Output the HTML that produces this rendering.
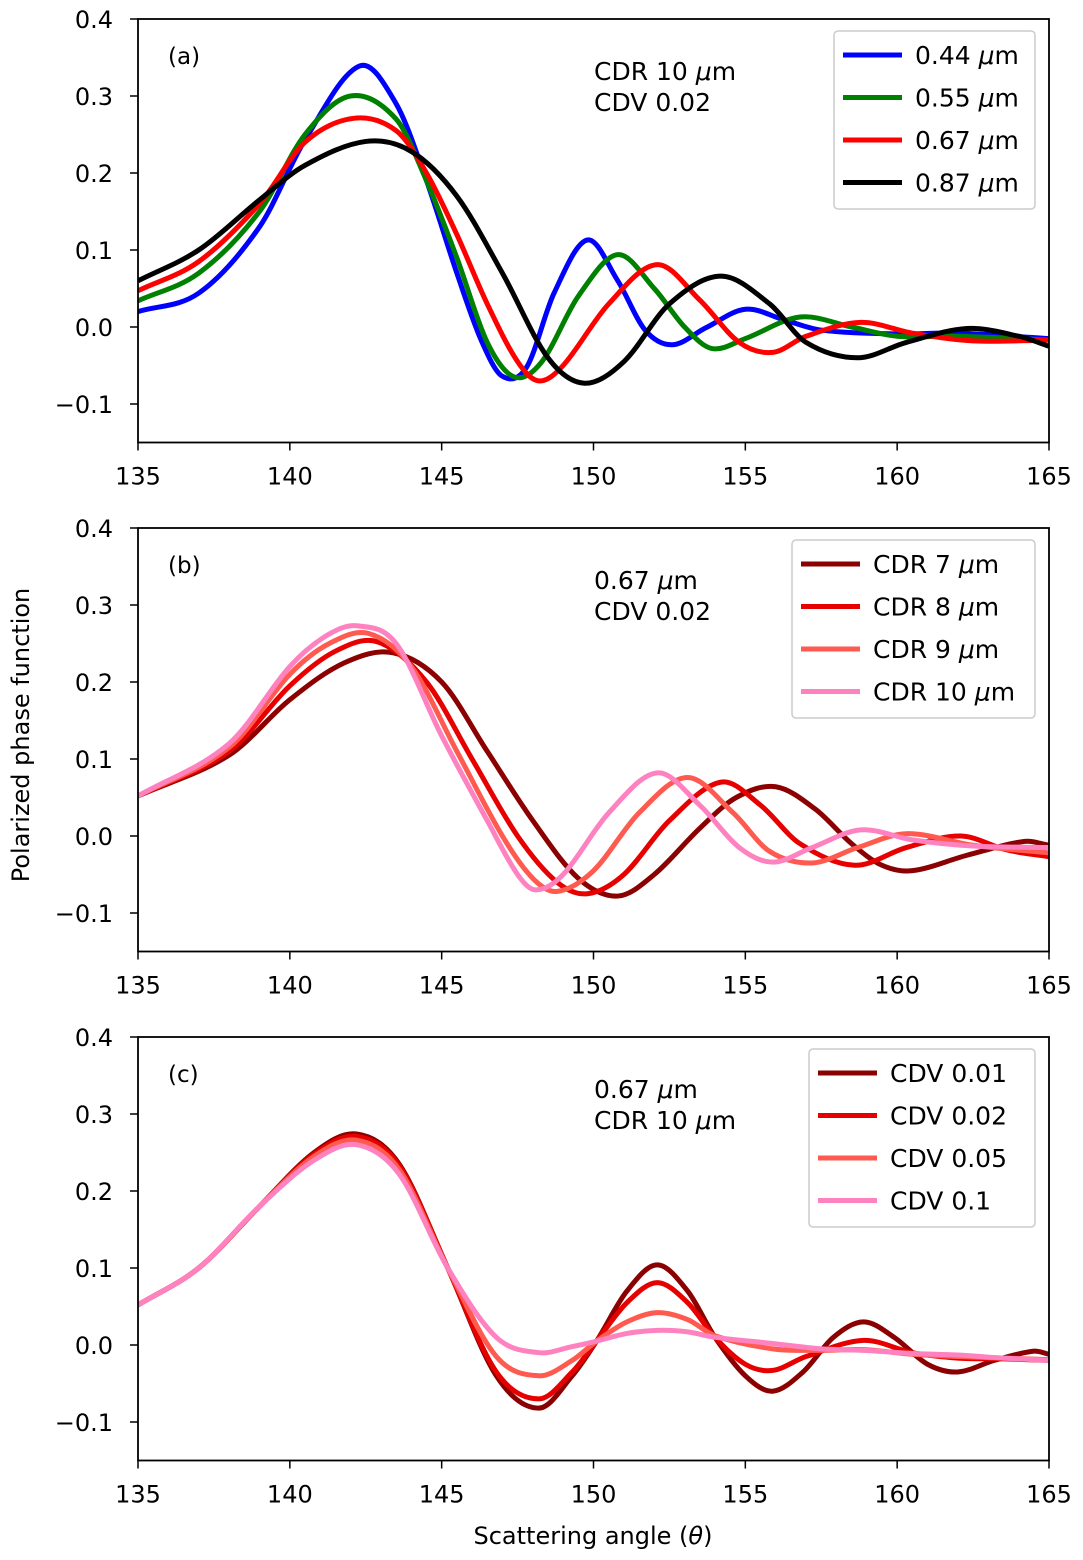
<!DOCTYPE html>
<html><head><meta charset="utf-8">
<style>
html,body{margin:0;padding:0;background:#fff;}
svg{display:block;font-family:"DejaVu Sans","Liberation Sans",sans-serif;}
</style></head>
<body>
<svg id="fig" width="1083" height="1560" viewBox="0 0 1083 1560" xmlns="http://www.w3.org/2000/svg">
<text x="29" y="735" font-size="24" text-anchor="middle" transform="rotate(-90 29 735)">Polarized phase function</text>
<text x="593" y="1544" font-size="24" text-anchor="middle">Scattering angle (<tspan font-style="italic">θ</tspan>)</text>
</svg>
<script>
const xTicks=[135,140,145,150,155,160,165];
const yTicks=[-0.1,0.0,0.1,0.2,0.3,0.4];
const yTickLabels=["\u22120.1","0.0","0.1","0.2","0.3","0.4"];
// Panel a
const aNames=["0.44 ","0.55 ","0.67 ","0.87 "];
const aColors=["#0000ff","#008000","#ff0000","#000000"];
const a044=[[135,0.020],[137,0.044],[139,0.13],[140.5,0.243],[142.3,0.339],[143.5,0.29],[144.5,0.19],[145.5,0.07],[146.3,-0.017],[147,-0.064],[147.8,-0.052],[148.7,0.044],[149.8,0.113],[150.8,0.06],[151.7,-0.004],[152.6,-0.023],[153.7,-0.001],[155,0.023],[156.3,0.009],[157.5,-0.004],[160,-0.009],[162,-0.008],[165,-0.015]];
const a055=[[135,0.034],[137,0.07],[139,0.15],[140.5,0.25],[142,0.300],[143.5,0.27],[144.5,0.19],[145.5,0.09],[146.5,-0.02],[147.4,-0.065],[148.3,-0.045],[149.5,0.04],[150.8,0.094],[152,0.05],[153,0.0],[153.9,-0.028],[155,-0.015],[156.8,0.013],[158.5,0.0],[160,-0.012],[162,-0.012],[165,-0.017]];
const a067=[[135,0.047],[137,0.085],[139,0.16],[140.5,0.24],[142.1,0.271],[143.5,0.255],[144.5,0.2],[145.5,0.12],[146.5,0.03],[147.5,-0.045],[148.2,-0.07],[149,-0.05],[150.5,0.03],[152.1,0.081],[153.5,0.035],[154.8,-0.02],[155.9,-0.033],[157,-0.012],[158.8,0.006],[160.5,-0.008],[162.5,-0.018],[165,-0.017]];
const a087=[[135,0.06],[137,0.1],[139,0.165],[140.5,0.21],[142.5,0.241],[144,0.228],[145.5,0.17],[147,0.07],[148.5,-0.04],[149.7,-0.073],[151,-0.045],[152.5,0.03],[154.2,0.066],[155.8,0.03],[157,-0.02],[158.7,-0.04],[160.3,-0.02],[162.3,-0.002],[164,-0.012],[165,-0.025]];
// Panel b
const bNames=["CDR 7","CDR 8","CDR 9","CDR 10"];
const bColors=["#8b0000","#e60000","#ff5a50","#ff82c0"];
const b7=[[135,0.052],[138,0.105],[140,0.177],[141.8,0.225],[143.4,0.238],[145,0.2],[146.5,0.11],[148,0.02],[149.5,-0.055],[150.8,-0.078],[152,-0.05],[153.5,0.01],[154.7,0.05],[156,0.064],[157.3,0.035],[158.5,-0.01],[159.5,-0.038],[160.5,-0.045],[162.3,-0.025],[164.2,-0.007],[165,-0.012]];
const b8=[[135,0.052],[138,0.11],[140,0.195],[141.5,0.24],[142.9,0.252],[144.5,0.2],[146,0.1],[147.5,0.0],[148.8,-0.06],[149.8,-0.075],[151,-0.05],[152.5,0.02],[154.2,0.07],[155.5,0.04],[156.8,-0.01],[158.6,-0.038],[160.3,-0.015],[162.1,0.0],[163.6,-0.018],[165,-0.027]];
const b9=[[135,0.052],[138,0.115],[140,0.21],[141.3,0.25],[142.6,0.263],[144,0.22],[145.5,0.11],[147,0.0],[148,-0.055],[148.8,-0.072],[150,-0.045],[151.5,0.03],[153.1,0.076],[154.6,0.03],[155.8,-0.02],[157.2,-0.035],[158.7,-0.015],[160.3,0.003],[162.5,-0.012],[165,-0.022]];
const b10=[[135,0.052],[138,0.12],[140,0.22],[141.2,0.26],[142.2,0.273],[143.5,0.25],[145,0.13],[146.5,0.02],[147.5,-0.05],[148.1,-0.07],[149,-0.05],[150.5,0.03],[152.1,0.082],[153.5,0.04],[154.8,-0.015],[155.9,-0.034],[157.2,-0.015],[158.8,0.008],[160.5,-0.005],[162.5,-0.013],[165,-0.015]];
// Panel c
const cNames=["CDV 0.01","CDV 0.02","CDV 0.05","CDV 0.1"];
const cColors=["#8b0000","#e60000","#ff5a50","#ff82c0"];
const c001=[[135,0.052],[137,0.1],[139,0.18],[140.8,0.25],[142.2,0.274],[143.6,0.235],[145.2,0.1],[146.8,-0.04],[148.2,-0.082],[149.3,-0.04],[150.1,0.005],[151.1,0.07],[152.1,0.104],[153.1,0.07],[154,0.01],[155,-0.04],[155.9,-0.06],[156.9,-0.035],[157.9,0.01],[158.9,0.03],[159.9,0.01],[161,-0.025],[162,-0.035],[163.2,-0.02],[164.5,-0.008],[165,-0.012]];
const c002=[[135,0.052],[137,0.1],[139,0.18],[140.8,0.248],[142.2,0.271],[143.6,0.233],[145.2,0.1],[146.8,-0.035],[148.2,-0.07],[149.3,-0.035],[150.1,0.005],[151.1,0.055],[152.1,0.081],[153.1,0.055],[154,0.01],[155,-0.025],[155.9,-0.033],[157,-0.015],[158.9,0.006],[160.5,-0.01],[162,-0.017],[163.5,-0.018],[165,-0.02]];
const c005=[[135,0.052],[137,0.1],[139,0.18],[140.8,0.245],[142.2,0.266],[143.6,0.228],[145.2,0.1],[146.8,-0.015],[148.2,-0.04],[149.3,-0.02],[150.1,0.005],[151.1,0.03],[152.1,0.042],[153.1,0.033],[154,0.012],[155.9,-0.005],[157.5,-0.007],[158.9,-0.006],[160.5,-0.012],[162,-0.015],[163.5,-0.017],[165,-0.019]];
const c01=[[135,0.052],[137,0.1],[139,0.18],[140.8,0.24],[142.2,0.26],[143.6,0.222],[145.2,0.1],[146.8,0.01],[148.2,-0.01],[149.3,-0.002],[150.1,0.005],[151.1,0.015],[152.1,0.019],[153.1,0.017],[154,0.01],[155.9,0.002],[157.5,-0.005],[158.9,-0.007],[160.5,-0.011],[162,-0.013],[163.5,-0.017],[165,-0.02]];

const NS="http://www.w3.org/2000/svg";
const svg=document.getElementById('fig');
const X0=138,X1=1049;
function mk(tag,attrs,parent){const e=document.createElementNS(NS,tag);for(const k in attrs)e.setAttribute(k,attrs[k]);(parent||svg).appendChild(e);return e;}
function spline(pts){
  let d="M"+pts[0][0].toFixed(2)+","+pts[0][1].toFixed(2);
  for(let i=0;i<pts.length-1;i++){
    const p0=pts[Math.max(i-1,0)],p1=pts[i],p2=pts[i+1],p3=pts[Math.min(i+2,pts.length-1)];
    const h=p2[0]-p1[0];
    const m1=(p2[1]-p0[1])/(p2[0]-p0[0]||1), m2=(p3[1]-p1[1])/(p3[0]-p1[0]||1);
    const c1x=p1[0]+h/3,c1y=p1[1]+m1*h/3;
    const c2x=p2[0]-h/3,c2y=p2[1]-m2*h/3;
    d+=" C"+c1x.toFixed(2)+","+c1y.toFixed(2)+" "+c2x.toFixed(2)+","+c2y.toFixed(2)+" "+p2[0].toFixed(2)+","+p2[1].toFixed(2);
  }
  return d;
}
function panel(top,label,ann1,ann2,series,names,colors,legW,legX,key,mu){
  const bottom=top+423.5;
  const xs=v=>X0+(v-135)/30*(X1-X0);
  const ys=v=>top+(0.4-v)/0.55*423.5;
  const g=mk('g',{});
  
  
  const clipId='clip'+key;
  const cp=mk('clipPath',{id:clipId},g);
  mk('rect',{x:X0,y:top,width:X1-X0,height:423.5},cp);
  const lines=mk('g',{'clip-path':'url(#'+clipId+')'},g);
  series.forEach((s,i)=>{
    const p=mk('path',{d:spline(s.map(q=>[xs(q[0]),ys(q[1])])),fill:'none',stroke:colors[i],'stroke-width':5,'stroke-linejoin':'round'},lines);
    
    
  });
  const fr=mk('rect',{x:X0,y:top,width:X1-X0,height:423.5,fill:'none',stroke:'#000','stroke-width':1.8},g);
  
  
  xTicks.forEach(t=>{
    mk('line',{x1:xs(t),x2:xs(t),y1:bottom,y2:bottom+8,stroke:'#000','stroke-width':1.5},g);
    const tx=mk('text',{x:xs(t),y:bottom+42,'font-size':24,'text-anchor':'middle'},g);
    tx.textContent=t;
    
    
  });
  yTicks.forEach((t,i)=>{
    mk('line',{x1:X0-8,x2:X0,y1:ys(t),y2:ys(t),stroke:'#000','stroke-width':1.5},g);
    const tx=mk('text',{x:X0-25,y:ys(t)+9,'font-size':24,'text-anchor':'end'},g);
    tx.textContent=yTickLabels[i];
    
    
  });
  const pl=mk('text',{x:168,y:top+45,'font-size':23},g);
  pl.textContent=label;
  
  
  const a1=mk('text',{x:594,y:top+61,'font-size':25},g);a1.innerHTML=ann1;
  
  
  const a2=mk('text',{x:594,y:top+92,'font-size':25},g);a2.innerHTML=ann2;
  
  
  const lg=mk('g',{},g);
  
  
  const lh=names.length*42.5+8;
  mk('rect',{x:legX,y:top+12,width:legW,height:lh,rx:4,fill:'#fff',stroke:'#ccc','stroke-width':1.5,'fill-opacity':0.85},lg);
  names.forEach((n,i)=>{
    const yy=top+36+i*42.5;
    const ent=mk('g',{},lg);
    
    
    mk('line',{x1:legX+9,x2:legX+68,y1:yy,y2:yy,stroke:colors[i],'stroke-width':5},ent);
    const t=mk('text',{x:legX+81,y:yy+9,'font-size':25},ent);
    t.innerHTML=mu?n+"<tspan font-style='italic'>μ</tspan>m":n;
  });
}
panel(19,"(a)","CDR 10 <tspan font-style='italic'>μ</tspan>m","CDV 0.02",[a044,a055,a067,a087],aNames,aColors,201,834,'a',true);
panel(528,"(b)","0.67 <tspan font-style='italic'>μ</tspan>m","CDV 0.02",[b7,b8,b9,b10],bNames.map(s=>s+" "),bColors,243,792,'b',true);
panel(1037,"(c)","0.67 <tspan font-style='italic'>μ</tspan>m","CDR 10 <tspan font-style='italic'>μ</tspan>m",[c001,c002,c005,c01],cNames,cColors,226,809,'c',false);
</script>
</body></html>
